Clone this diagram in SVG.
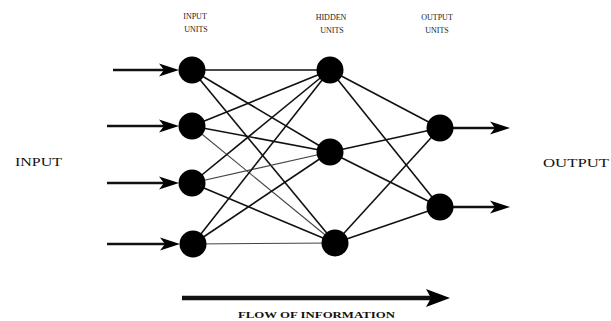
<svg xmlns="http://www.w3.org/2000/svg" xmlns:xlink="http://www.w3.org/1999/xlink" width="611" height="321" viewBox="0 0 611 321">
<style>
.lbl{font-family:"Liberation Serif",serif;fill:#222;font-size:8px;text-anchor:middle}
.big{font-family:"Liberation Serif",serif;fill:#111;font-size:13px}
.e{stroke:#111;stroke-width:1.6;fill:none}
.el{stroke:#444;stroke-width:1.1;fill:none}
.a{stroke:#111;stroke-width:2.6;fill:none}
.n{fill:#000}
</style>
<defs>
<path id="head" d="M-20,-6.5 L0,0 L-20,6.5 L-15,0 Z" fill="#000"/>
<path id="bighead" d="M-24,-9 L0,0 L-24,9 L-19,0 Z" fill="#000"/>
</defs>
<rect width="611" height="321" fill="#fff"/>
<g id="labels">
<text class="lbl" x="195" y="19">INPUT</text>
<text class="lbl" x="196" y="32">UNITS</text>
<text class="lbl" x="331" y="20">HIDDEN</text>
<text class="lbl" x="332" y="33">UNITS</text>
<text class="lbl" x="437" y="20">OUTPUT</text>
<text class="lbl" x="437" y="33">UNITS</text>
<text class="big" x="15" y="166" textLength="47" lengthAdjust="spacingAndGlyphs">INPUT</text>
<text class="big" x="543" y="167" font-size="14" textLength="66" lengthAdjust="spacingAndGlyphs">OUTPUT</text>
<text x="238" y="318" font-family="Liberation Serif,serif" font-size="8.5" font-weight="bold" fill="#111" textLength="157" lengthAdjust="spacingAndGlyphs">FLOW OF INFORMATION</text>
</g>
<g id="connectors">
<line class="a" x1="113" y1="70" x2="166" y2="70"/>
<use xlink:href="#head" href="#head" x="179" y="70"/>
<line class="a" x1="107" y1="126" x2="166" y2="126"/>
<use xlink:href="#head" href="#head" x="179" y="126"/>
<line class="a" x1="107" y1="183" x2="166" y2="183"/>
<use xlink:href="#head" href="#head" x="179" y="183"/>
<line class="a" x1="107" y1="244" x2="167" y2="244"/>
<use xlink:href="#head" href="#head" x="180" y="244"/>
<line class="a" x1="453" y1="128" x2="496" y2="128"/>
<use xlink:href="#head" href="#head" x="510" y="128"/>
<line class="a" x1="453" y1="207" x2="496" y2="207"/>
<use xlink:href="#head" href="#head" x="510" y="207"/>
<line x1="182" y1="298" x2="432" y2="298" stroke="#111" stroke-width="4.5"/>
<use xlink:href="#bighead" href="#bighead" x="450" y="298"/>
<line class="e" x1="192" y1="70" x2="330" y2="70"/>
<line class="e" x1="192" y1="70" x2="330" y2="152"/>
<line class="e" x1="192" y1="70" x2="335" y2="243"/>
<line class="e" x1="192" y1="126" x2="330" y2="70"/>
<line class="e" x1="192" y1="126" x2="330" y2="152"/>
<line class="el" x1="192" y1="126" x2="335" y2="243"/>
<line class="e" x1="192" y1="183" x2="330" y2="70"/>
<line class="el" x1="192" y1="183" x2="330" y2="152"/>
<line class="e" x1="192" y1="183" x2="335" y2="243"/>
<line class="e" x1="193" y1="244" x2="330" y2="70"/>
<line class="e" x1="193" y1="244" x2="330" y2="152"/>
<line class="el" x1="193" y1="244" x2="335" y2="243"/>
<line class="e" x1="330" y1="70" x2="440" y2="128"/>
<line class="e" x1="330" y1="70" x2="440" y2="207"/>
<line class="e" x1="330" y1="152" x2="440" y2="128"/>
<line class="e" x1="330" y1="152" x2="440" y2="207"/>
<line class="e" x1="335" y1="243" x2="440" y2="128"/>
<line class="e" x1="335" y1="243" x2="440" y2="207"/>
</g>
<g id="in1"><circle class="n" cx="192" cy="70" r="13.5"/></g>
<g id="in2"><circle class="n" cx="192" cy="126" r="13.5"/></g>
<g id="in3"><circle class="n" cx="192" cy="183" r="13.5"/></g>
<g id="in4"><circle class="n" cx="193" cy="244" r="13.5"/></g>
<g id="h1"><circle class="n" cx="330" cy="70" r="13.5"/></g>
<g id="h2"><circle class="n" cx="330" cy="152" r="13.5"/></g>
<g id="h3"><circle class="n" cx="335" cy="243" r="13.5"/></g>
<g id="o1"><circle class="n" cx="440" cy="128" r="13.5"/></g>
<g id="o2"><circle class="n" cx="440" cy="207" r="13.5"/></g>
</svg>
